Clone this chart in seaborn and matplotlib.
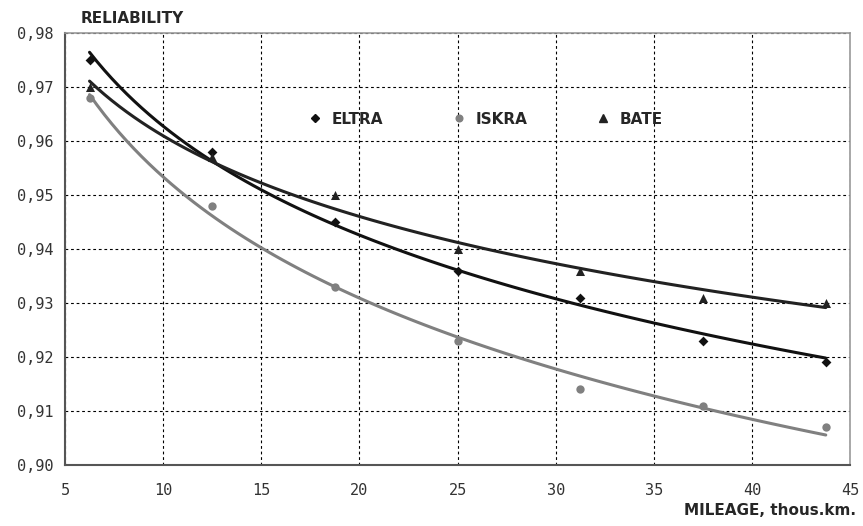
import matplotlib
matplotlib.use('Agg')
import matplotlib.pyplot as plt
import pandas as pd
import seaborn as sns
from matplotlib.lines import Line2D
from matplotlib.ticker import FuncFormatter, MultipleLocator

# Data
mileage = [6.25, 12.5, 18.75, 25.0, 31.25, 37.5, 43.75]
eltra = [0.975, 0.958, 0.945, 0.936, 0.931, 0.923, 0.919]
iskra = [0.968, 0.948, 0.933, 0.923, 0.914, 0.911, 0.907]
bate = [0.970, 0.957, 0.950, 0.940, 0.936, 0.931, 0.930]

series = {
    'ELTRA': (eltra, '#111111', 'D', 5),
    'ISKRA': (iskra, '#808080', 'o', 6),
    'BATE': (bate, '#222222', '^', 6.5),
}

sns.set_style('white')
plt.rcParams['font.family'] = ['DejaVu Sans']

fig = plt.figure(figsize=(8.63, 5.26), dpi=100)
ax = fig.add_axes([0.0753, 0.116, 0.910, 0.821])

for name, (vals, color, marker, size) in series.items():
    df = pd.DataFrame({'x': mileage, 'y': vals})
    sns.regplot(data=df, x='x', y='y', logx=True, ci=None, ax=ax,
                marker=marker, color=color, truncate=True,
                scatter_kws={'s': size ** 2, 'linewidths': 0, 'zorder': 4, 'alpha': 1},
                line_kws={'lw': 2.2, 'color': color, 'zorder': 3})

ax.set_xlim(5, 45)
ax.set_ylim(0.90, 0.98)
ax.xaxis.set_major_locator(MultipleLocator(5))
ax.yaxis.set_major_locator(MultipleLocator(0.01))
ax.yaxis.set_major_formatter(FuncFormatter(lambda v, p: f'{v:.2f}'.replace('.', ',')))
ax.set_xlabel('')
ax.set_ylabel('')

ax.grid(True, color='black', linestyle=(0, (2.5, 2.5)), lw=0.8)
ax.set_axisbelow(True)
for s in ['left', 'bottom']:
    ax.spines[s].set_color('#555555')
    ax.spines[s].set_linewidth(1.5)
for s in ['top', 'right']:
    ax.spines[s].set_color('#999999')
    ax.spines[s].set_linewidth(1.2)

ax.tick_params(axis='both', direction='out', length=5, width=1.2, color='#555555',
               labelsize=11, labelcolor='#333333')
for lbl in ax.get_yticklabels() + ax.get_xticklabels():
    lbl.set_family('DejaVu Sans Mono')
ax.tick_params(axis='x', pad=8)

handles = [Line2D([], [], marker=m, color=c, linestyle='none', markersize=s * 0.8)
           for (v, c, m, s) in series.values()]
ax.legend(handles, list(series.keys()), loc='upper left', bbox_to_anchor=(0.281, 0.85),
          ncol=3, frameon=False, handletextpad=0.1, columnspacing=3.95,
          prop={'weight': 'bold', 'size': 11})

fig.text(0.093, 0.965, 'RELIABILITY', fontsize=11, fontweight='bold', ha='left', va='center')
fig.text(0.992, 0.03, 'MILEAGE, thous.km.', fontsize=11, fontweight='bold', ha='right', va='center')

fig.savefig('out.png', dpi=100)
